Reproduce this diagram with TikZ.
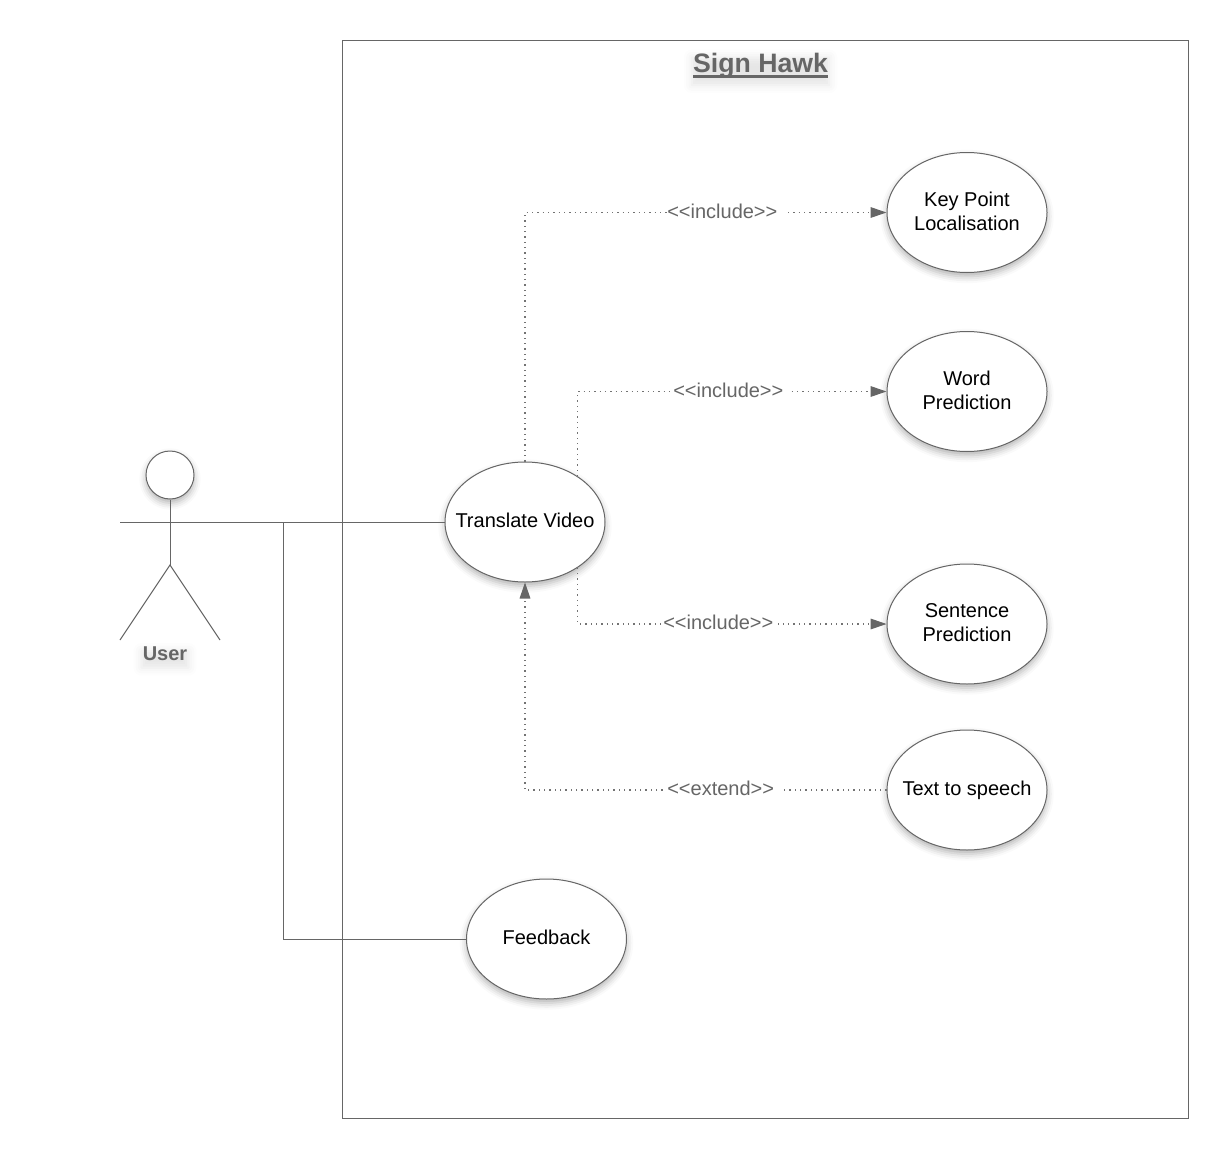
\documentclass[tikz,border=0pt]{standalone}
\usepackage{fontspec}
\setmainfont{Liberation Sans}
\usepackage{tikz}
\usetikzlibrary{positioning,shapes.geometric,arrows.meta,shadows.blur}

% color of lines and grey labels
\colorlet{colLine}{black!60}

% text with a heavy rule below it
\newcommand{\thickline}[1]{\setbox0\hbox{#1}\rlap{\rule[-3.7pt]{\wd0}{2pt}}\box0}

\tikzset{
  x=0.75pt, y=-0.75pt,
  softshadow/.style={blur shadow={shadow xshift=0pt, shadow yshift=-3pt, shadow blur radius=5pt, shadow opacity=30}},
  textshadow/.style={blur shadow={shadow xshift=0pt, shadow yshift=-4pt, shadow blur radius=6pt, shadow opacity=10}},
  usecase/.style={ellipse, draw=colLine, fill=white, line width=0.75pt, minimum width=120pt, minimum height=90pt,
    inner sep=0pt, align=center, text=black, text depth=2.5pt, font=\fontsize{15}{18}\selectfont, softshadow},
  assoc/.style={draw=colLine, line width=0.75pt},
  dep/.style={draw=black!55, line width=0.8pt, dash pattern=on 1pt off 3pt, -{Triangle[length=12pt,width=8pt,color=colLine]}},
  deplabel/.style={anchor=west, fill=white, inner sep=0pt, text=colLine, font=\fontsize{15}{18}\selectfont}
}

\begin{document}
\begin{tikzpicture}
  \useasboundingbox (0,0) rectangle (1229,1160);

  % system boundary
  \node[draw=colLine, line width=0.75pt, minimum width=634.5pt, minimum height=808.5pt, inner sep=0pt] (frame) at (765.5,579) {};
  \node[font=\fontsize{20}{24}\selectfont\bfseries, text=colLine, inner sep=1pt, textshadow] (title) at (760.5,66) {\thickline{Sign Hawk}};

  % use cases
  \node[usecase] (tv) at (525,522) {\makebox[0pt]{Translate Video}};
  \node[usecase] (kp) at (967,212.5) {Key Point\\Localisation};
  \node[usecase] (wp) at (967,391.5) {Word\\Prediction};
  \node[usecase] (sp) at (967,624) {Sentence\\Prediction};
  \node[usecase] (ts) at (967,790) {\makebox[0pt]{Text to speech}};
  \node[usecase] (fb) at (546.5,939) {Feedback};

  % actor
  \node[circle, draw=colLine, fill=white, line width=0.75pt, minimum size=36pt, inner sep=0pt, softshadow] (head) at (170,475) {};
  \coordinate (hip) at (170,565);
  \coordinate (armL) at (120,522);
  \coordinate (armR) at (220,522);
  \coordinate (footL) at (120,640);
  \coordinate (footR) at (220,640);
  \draw[assoc] (head.south) -- (hip);
  \draw[assoc] (armL) -- (armR);
  \draw[assoc] (footL) -- (hip) -- (footR);
  \node[font=\fontsize{15}{18}\selectfont\bfseries, text=colLine, inner sep=1pt, textshadow] (user) at (165,654) {User};

  % associations of the actor
  \coordinate (fork) at (283.5,522);
  \draw[assoc] (armR) -- (tv.west);
  \draw[assoc] (fork) |- (fb.west);

  % include and extend relations
  \draw[dep] (tv.north) |- (kp.west);
  \draw[dep] (tv.41.3) |- (wp.west);
  \draw[dep] (tv.-41.3) |- (sp.west);
  \draw[dep] (ts.west) -| (tv.south);

  % labels on the relations
  \node[deplabel] (lkp) at (667,211) {<{}<include>{}>\kern6pt};
  \node[deplabel] (lwp) at (673,390) {<{}<include>{}>\kern6pt};
  \node[deplabel] (lsp) at (663,622.5) {<{}<include>{}>\kern3.5pt};
  \node[deplabel] (lts) at (667,788) {<{}<extend>{}>\kern5pt};

\end{tikzpicture}
\end{document}
